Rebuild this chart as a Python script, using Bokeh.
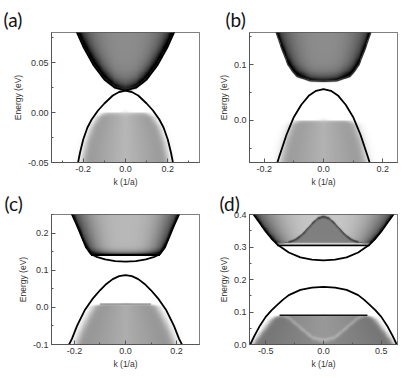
import numpy as np
from bokeh.plotting import figure
from bokeh.layouts import gridplot
from bokeh.models import FixedTicker, PrintfTickFormatter, Range1d, LinearColorMapper
from bokeh.embed import file_html
from bokeh.resources import INLINE

# ---------------- values (half curves, k >= 0) ----------------
# Panel (a)
a_xrange = (-0.35, 0.35)
a_yrange = (-0.05, 0.08)
a_cb_k = [0.0, 0.05, 0.10, 0.15, 0.20, 0.24]
a_cb_E = [0.022, 0.0248, 0.033, 0.047, 0.066, 0.085]
a_ss_k = [0.0, 0.03, 0.06, 0.10, 0.13, 0.16, 0.18, 0.20, 0.215, 0.23]
a_ss_E = [0.022, 0.0205, 0.017, 0.009, 0.002, -0.007, -0.015, -0.027, -0.040, -0.056]
a_vb_k = [0.0, 0.10, 0.13, 0.16, 0.185, 0.20, 0.21]
a_vb_E = [0.0, 0.0, -0.005, -0.015, -0.030, -0.045, -0.060]
a_xticks, a_xminor = [-0.2, 0.0, 0.2], [-0.3, -0.1, 0.1, 0.3]
a_yticks, a_yminor = [-0.05, 0.0, 0.05], [-0.025, 0.025, 0.075]

# Panel (b)
b_xrange = (-0.25, 0.25)
b_yrange = (-0.076, 0.158)
b_cb_k = [0.0, 0.045, 0.09, 0.105, 0.12, 0.142, 0.16, 0.17]
b_cb_E = [0.070, 0.071, 0.079, 0.088, 0.100, 0.130, 0.158, 0.175]
b_ss_k = [0.0, 0.025, 0.05, 0.075, 0.10, 0.125, 0.15, 0.165]
b_ss_E = [0.056, 0.053, 0.044, 0.028, 0.006, -0.026, -0.066, -0.092]
b_vb_k = [0.0, 0.09, 0.11, 0.13, 0.145, 0.16]
b_vb_E = [0.0, 0.0, -0.010, -0.040, -0.076, -0.105]
b_xticks, b_xminor = [-0.2, 0.0, 0.2], [-0.1, 0.1]
b_yticks, b_yminor = [0.0, 0.1], [-0.05, 0.05, 0.15]

# Panel (c)
c_xrange = (-0.29, 0.29)
c_yrange = (-0.1, 0.25)
c_cb_k = [0.0, 0.04, 0.08, 0.11, 0.135, 0.155, 0.175, 0.19, 0.21, 0.225]
c_cb_E = [0.123, 0.1245, 0.129, 0.135, 0.143, 0.162, 0.195, 0.22, 0.25, 0.275]
c_flat_k = [-0.135, 0.135]
c_flat_E = [0.141, 0.141]
c_ss_k = [0.0, 0.025, 0.05, 0.075, 0.10, 0.13, 0.16, 0.19, 0.21, 0.225]
c_ss_E = [0.087, 0.084, 0.076, 0.063, 0.046, 0.022, -0.008, -0.050, -0.085, -0.105]
c_vb_k = [0.0, 0.10, 0.125, 0.15, 0.175, 0.195, 0.21]
c_vb_E = [0.009, 0.009, 0.0, -0.030, -0.065, -0.100, -0.125]
c_vtop_k = [-0.10, 0.10]
c_vtop_E = [0.009, 0.009]
c_xticks, c_xminor = [-0.2, 0.0, 0.2], [-0.1, 0.1]
c_yticks, c_yminor = [-0.1, 0.0, 0.1, 0.2], [-0.05, 0.05, 0.15, 0.25]

# Panel (d)
d_xrange = (-0.64, 0.64)
d_yrange = (0.0, 0.4)
d_cb_k = [0.0, 0.1, 0.2, 0.3, 0.4, 0.45, 0.5, 0.55, 0.6, 0.65]
d_cb_E = [0.259, 0.261, 0.268, 0.283, 0.308, 0.326, 0.348, 0.373, 0.398, 0.425]
d_flat_k = [-0.40, 0.40]
d_flat_E = [0.305, 0.305]
d_bell_k = [0.0, 0.05, 0.1, 0.15, 0.2, 0.25, 0.3, 0.35, 0.4]
d_bell_E = [0.395, 0.389, 0.372, 0.352, 0.334, 0.322, 0.315, 0.312, 0.311]
d_ss_k = [0.0, 0.1, 0.2, 0.3, 0.35, 0.4, 0.45, 0.5, 0.55, 0.6, 0.64]
d_ss_E = [0.177, 0.175, 0.168, 0.152, 0.138, 0.122, 0.105, 0.085, 0.058, 0.025, -0.005]
d_vb_k = [0.0, 0.37, 0.42, 0.46, 0.5, 0.55, 0.6, 0.63]
d_vb_E = [0.09, 0.09, 0.085, 0.072, 0.053, 0.030, 0.005, -0.010]
d_vtop_k = [-0.38, 0.38]
d_vtop_E = [0.09, 0.09]
d_valley_k = [0.0, 0.1, 0.2, 0.3, 0.36]
d_valley_E = [0.010, 0.020, 0.050, 0.080, 0.090]
d_xticks, d_xminor = [-0.5, 0.0, 0.5], [-0.25, 0.25]
d_yticks, d_yminor = [0.0, 0.1, 0.2, 0.3, 0.4], [0.05, 0.15, 0.25, 0.35]

titles = ["(a)", "(b)", "(c)", "(d)"]

# ---------------- helpers ----------------
GREYS = ["#%02x%02x%02x" % (v, v, v) for v in np.linspace(255, 0, 256).astype(int)]
FW, FH = 148, 130


def mirror(k, e):
    k = np.asarray(k, float)
    e = np.asarray(e, float)
    return np.concatenate([-k[::-1], k[1:]]), np.concatenate([e[::-1], e[1:]])


def sstep(x):
    return 0.5 * (1.0 + np.tanh(x))


def mesh(xr, yr, nx=320, ny=280):
    k = np.linspace(xr[0], xr[1], nx)
    e = np.linspace(yr[0], yr[1], ny)
    K, E = np.meshgrid(k, e)
    return np.abs(K), E


def conduction(Ka, E, hk, he, floor=None, base=0.4, side=0.4, pw=3,
               amp=0.6, w=0.007, edge_from_floor=True):
    Ec = np.interp(Ka, hk, he)
    lower = Ec if floor is None else np.maximum(Ec, floor)
    kc = np.interp(E, he, hk)
    t = np.clip(Ka / np.maximum(kc, 1e-6), 0, 1)
    s = E - lower
    sref = s if edge_from_floor else E - Ec
    I = base + side * t ** pw + amp * np.exp(-np.clip(sref, 0, None) / w)
    return np.clip(I, 0, 1), s


def valence(Ka, E, hk, he, top, base=0.3, slope=0.12, soft_k=0.02, soft_e=0.002):
    kv = np.interp(-E, -np.asarray(he, float), hk)
    t = np.clip(Ka / np.maximum(kv, 1e-6), 0, 1)
    I = base + slope * t
    fade = sstep((kv - Ka) / soft_k) * sstep((top - E) / soft_e)
    return I, fade


def make_fig(xr, yr, bl, br, bt, bb, title, tx, tstand, xt, xm, yt, ym, yfmt):
    p = figure(frame_width=FW, frame_height=FH, x_range=Range1d(*xr), y_range=Range1d(*yr),
               output_backend="svg", toolbar_location=None,
               min_border_left=bl, min_border_right=br,
               min_border_top=bt, min_border_bottom=bb)
    p.xgrid.visible = False
    p.ygrid.visible = False
    p.outline_line_color = "#555555"
    p.xaxis.ticker = FixedTicker(ticks=xt, minor_ticks=xm)
    p.yaxis.ticker = FixedTicker(ticks=yt, minor_ticks=ym)
    p.xaxis.formatter = PrintfTickFormatter(format="%.1f")
    p.yaxis.formatter = PrintfTickFormatter(format=yfmt)
    p.xaxis.axis_label = "k (1/a)"
    p.yaxis.axis_label = "Energy (eV)"
    for ax in (p.xaxis[0], p.yaxis[0]):
        ax.major_tick_in = 4
        ax.major_tick_out = 0
        ax.minor_tick_in = 2
        ax.minor_tick_out = 0
        ax.axis_line_color = "#555555"
        ax.major_tick_line_color = "#555555"
        ax.minor_tick_line_color = "#555555"
        ax.major_label_text_font = "Liberation Sans"
        ax.major_label_text_font_size = "9px"
        ax.major_label_text_color = "#333333"
        ax.major_label_standoff = 3
        ax.axis_label_text_font = "Liberation Sans"
        ax.axis_label_text_font_size = "8.5px"
        ax.axis_label_text_font_style = "normal"
        ax.axis_label_text_color = "#333333"
        ax.axis_label_standoff = 2
    # panel letter as the plot title, shifted left of the frame
    p.title.text = title
    p.title.text_font = "Lato"
    p.title.text_font_size = "19px"
    p.title.text_font_style = "normal"
    p.title.text_color = "#111111"
    p.title.align = "left"
    p.title.offset = tx - bl
    p.title.standoff = tstand
    return p


def add_image(p, I, xr, yr):
    mapper = LinearColorMapper(palette=GREYS, low=0, high=1)
    p.image(image=[I], x=xr[0], y=yr[0], dw=xr[1] - xr[0], dh=yr[1] - yr[0],
            color_mapper=mapper)


def add_line(p, k, e, color="black", width=1.8, alpha=1.0, half=True):
    if half:
        k, e = mirror(k, e)
    p.line(k, e, line_color=color, line_width=width, line_alpha=alpha)


# ---------------- panel (a) ----------------
pa = make_fig(a_xrange, a_yrange, 51, 9, 32, 26, titles[0], 3, 3,
              a_xticks, a_xminor, a_yticks, a_yminor, "%.2f")
Ka, E = mesh(a_xrange, a_yrange)
Ic, _ = conduction(Ka, E, a_cb_k, a_cb_E, base=0.45, side=0.35, amp=0.6, w=0.007)
Ic = Ic * sstep((E - np.interp(Ka, a_cb_k, a_cb_E)) / 0.0012)
Iv, fv = valence(Ka, E, a_vb_k, a_vb_E, 0.0, base=0.28, slope=0.14, soft_k=0.02, soft_e=0.0025)
add_image(pa, np.clip(Ic + Iv * fv, 0, 1), a_xrange, a_yrange)
add_line(pa, a_cb_k, a_cb_E)
add_line(pa, a_ss_k, a_ss_E)

# ---------------- panel (b) ----------------
pb = make_fig(b_xrange, b_yrange, 41, 11, 32, 26, titles[1], 17, 3,
              b_xticks, b_xminor, b_yticks, b_yminor, "%.1f")
Ka, E = mesh(b_xrange, b_yrange)
Ic, s = conduction(Ka, E, b_cb_k, b_cb_E, base=0.45, side=0.35, amp=0.6, w=0.009)
Ic = Ic * sstep(s / 0.0015)
Iv, fv = valence(Ka, E, b_vb_k, b_vb_E, 0.0, base=0.3, slope=0.12, soft_k=0.018, soft_e=0.003)
add_image(pb, np.clip(Ic + Iv * fv, 0, 1), b_xrange, b_yrange)
add_line(pb, b_cb_k, b_cb_E, color="#222222", width=1.2, alpha=0.8)
add_line(pb, b_ss_k, b_ss_E)

# ---------------- panel (c) ----------------
pc = make_fig(c_xrange, c_yrange, 50, 10, 23, 30, titles[2], 3, 0,
              c_xticks, c_xminor, c_yticks, c_yminor, "%.1f")
Ka, E = mesh(c_xrange, c_yrange)
Ic, s = conduction(Ka, E, c_cb_k, c_cb_E, floor=0.142, base=0.28, side=0.5, amp=0.7, w=0.006)
Ic = Ic * sstep(s / 0.0012)
Iv, fv = valence(Ka, E, c_vb_k, c_vb_E, 0.009, base=0.32, slope=0.12, soft_k=0.02, soft_e=0.003)
add_image(pc, np.clip(Ic + Iv * fv, 0, 1), c_xrange, c_yrange)
add_line(pc, c_cb_k, c_cb_E)
add_line(pc, c_flat_k, c_flat_E, half=False)
add_line(pc, c_vtop_k, c_vtop_E, color="#333333", width=1.0, alpha=0.7, half=False)
add_line(pc, c_ss_k, c_ss_E)

# ---------------- panel (d) ----------------
pd_ = make_fig(d_xrange, d_yrange, 40, 12, 23, 30, titles[3], 10, 0,
               d_xticks, d_xminor, d_yticks, d_yminor, "%.1f")
Ka, E = mesh(d_xrange, d_yrange)
Io, s = conduction(Ka, E, d_cb_k, d_cb_E, floor=0.312, base=0.22, side=0.5,
                   amp=0.5, w=0.006, edge_from_floor=False)
B = np.interp(Ka, d_bell_k, d_bell_E)
ridge = 0.3 * np.exp(-((E - B) / 0.004) ** 2) * (Ka < 0.3)
Iu = np.where(E < B, 0.5, Io) + ridge
Iu = np.clip(Iu, 0, 1) * sstep(s / 0.0012)
Iv, fv = valence(Ka, E, d_vb_k, d_vb_E, 0.09, base=0.45, slope=0.1, soft_k=0.03, soft_e=0.002)
V = np.interp(Ka, d_valley_k, d_valley_E)
Iv = Iv - 0.12 * np.exp(-((E - V) / 0.007) ** 2) - 0.05 * (E > V)
add_image(pd_, np.clip(Iu + Iv * fv, 0, 1), d_xrange, d_yrange)
add_line(pd_, d_bell_k, d_bell_E, color="#333333", width=1.0, alpha=0.6)
add_line(pd_, d_cb_k, d_cb_E)
add_line(pd_, d_flat_k, d_flat_E, half=False)
add_line(pd_, d_vtop_k, d_vtop_E, color="#111111", width=1.3, half=False)
add_line(pd_, d_ss_k, d_ss_E)

grid = gridplot([[pa, pb], [pc, pd_]], toolbar_location=None)

open("out.html", "w").write(file_html(grid, INLINE))
